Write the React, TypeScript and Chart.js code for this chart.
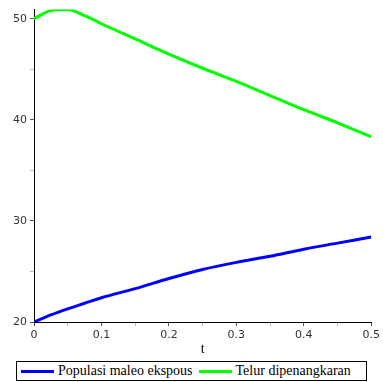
import React, { useEffect, useRef } from "react";
import { Chart, registerables } from "chart.js";

Chart.register(...registerables);

const tValues = [0, 0.025, 0.05, 0.075, 0.1, 0.15, 0.2, 0.25, 0.3, 0.35, 0.4, 0.45, 0.5];
const populasiMaleo = [20, 20.7, 21.3, 21.85, 22.4, 23.3, 24.3, 25.2, 25.9, 26.5, 27.2, 27.8, 28.4];
const telurPenangkaran = [50, 50.8, 50.9, 50.3, 49.5, 48.0, 46.5, 45.1, 43.8, 42.4, 41.0, 39.7, 38.3];
const yTicks = [20, 25, 30, 35, 40, 45, 50];
const xTicks = [0, 0.05, 0.1, 0.15, 0.2, 0.25, 0.3, 0.35, 0.4, 0.45, 0.5];
const seriesNames = ["Populasi maleo ekspous", "Telur dipenangkaran"];
const seriesColors = ["#0000ff", "#00ff00"];

const SERIF = "'Liberation Serif', 'DejaVu Serif', serif";

export default function App() {
  const ref = useRef<HTMLCanvasElement | null>(null);
  useEffect(() => {
    if (!ref.current) return;
    const isMajorY = (v: number) => Math.abs(v % 10) < 1e-9;
    const isMajorX = (v: number) => Math.abs(Math.round(v * 10) - v * 10) < 1e-9;
    const chart = new Chart(ref.current, {
      type: "line",
      data: {
        datasets: [
          {
            label: seriesNames[0],
            data: tValues.map((t, i) => ({ x: t, y: populasiMaleo[i] })),
            borderColor: seriesColors[0],
            backgroundColor: seriesColors[0],
            borderWidth: 3,
            pointRadius: 0,
            cubicInterpolationMode: "monotone",
          },
          {
            label: seriesNames[1],
            data: tValues.map((t, i) => ({ x: t, y: telurPenangkaran[i] })),
            borderColor: seriesColors[1],
            backgroundColor: seriesColors[1],
            borderWidth: 3,
            pointRadius: 0,
            cubicInterpolationMode: "monotone",
          },
        ],
      },
      options: {
        animation: false,
        responsive: false,
        maintainAspectRatio: false,
        layout: { padding: { left: 0, right: 11, top: 8, bottom: 0 } },
        plugins: { legend: { display: false }, tooltip: { enabled: false } },
        scales: {
          x: {
            type: "linear",
            min: 0,
            max: 0.5,
            afterBuildTicks: (s: any) => {
              s.ticks = xTicks.map((v) => ({ value: v }));
            },
            afterFit: (s: any) => {
              s.height = 36;
            },
            ticks: {
              autoSkip: false,
              maxRotation: 0,
              padding: 3,
              color: "#333",
              font: { family: "DejaVu Sans", size: 11 },
              callback: (v: any) => (isMajorX(Number(v)) ? String(Number(Number(v).toFixed(2))) : ""),
            },
            grid: {
              drawOnChartArea: false,
              drawTicks: true,
              tickLength: 4,
              tickColor: (ctx: any) => (ctx.tick && isMajorX(ctx.tick.value) ? "#555" : "#bbb"),
            },
            border: { color: "#000", width: 1 },
            title: {
              display: true,
              text: "t",
              color: "#000",
              padding: { top: 0, bottom: 0 },
              font: { family: SERIF, size: 14 },
            },
          },
          y: {
            type: "linear",
            min: 20,
            max: 50.9,
            afterBuildTicks: (s: any) => {
              s.ticks = yTicks.map((v) => ({ value: v }));
            },
            afterFit: (s: any) => {
              s.width = 34;
            },
            ticks: {
              autoSkip: false,
              padding: 3,
              color: "#333",
              font: { family: "DejaVu Sans", size: 11 },
              callback: (v: any) => (isMajorY(Number(v)) ? String(v) : ""),
            },
            grid: {
              drawOnChartArea: false,
              drawTicks: true,
              tickLength: 4,
              tickColor: (ctx: any) => (ctx.tick && isMajorY(ctx.tick.value) ? "#555" : "#bbb"),
            },
            border: { color: "#000", width: 1 },
          },
        },
      },
    });
    return () => chart.destroy();
  }, []);

  return (
    <div style={{ position: "fixed", left: 0, top: 0, width: 383, height: 382, background: "#fff" }}>
      <canvas ref={ref} width={383} height={358} style={{ display: "block", width: 383, height: 358 }} />
      <div
        style={{
          position: "absolute",
          left: 16,
          top: 361,
          width: 349,
          height: 18,
          border: "1px solid #000",
          display: "flex",
          alignItems: "center",
          fontFamily: SERIF,
          fontSize: 14,
          color: "#000",
          whiteSpace: "nowrap",
        }}
      >
        {seriesNames.map((n, i) => (
          <div key={n} style={{ display: "flex", alignItems: "center", marginLeft: i === 0 ? 4 : 6 }}>
            <div style={{ width: 33, height: 3, background: seriesColors[i], marginRight: 4 }} />
            <span>{n}</span>
          </div>
        ))}
      </div>
    </div>
  );
}
